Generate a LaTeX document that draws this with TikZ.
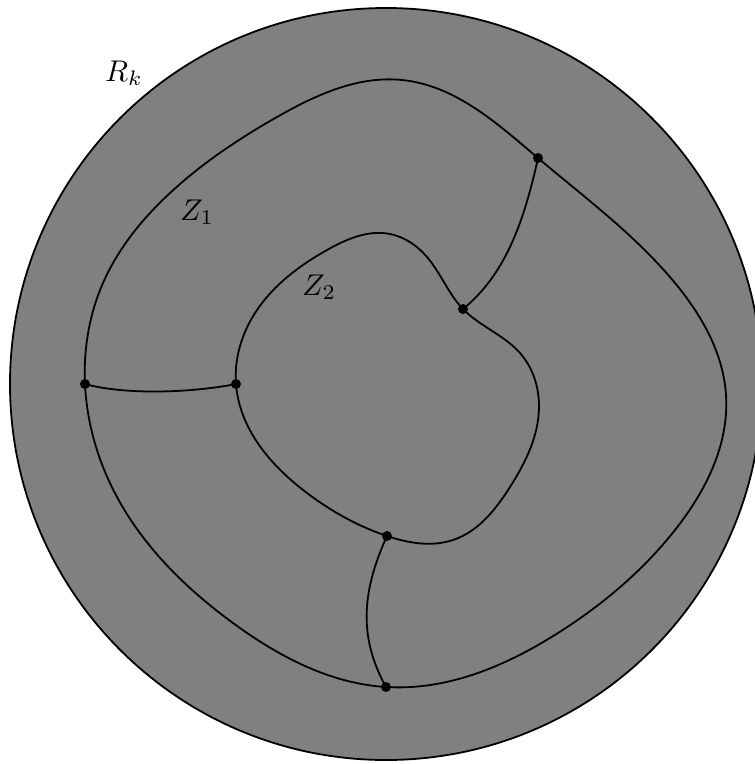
\documentclass[tikz,border=0pt]{standalone}
\usetikzlibrary{hobby}
\begin{document}
\tikzset{
  curve/.style={line width=1.8pt, black},
  dotpt/.style={circle, fill=black, inner sep=0pt, minimum size=10pt},
  lab/.style={font=\normalsize, scale=3, inner sep=0pt}
}
\begin{tikzpicture}[x=1pt,y=-1pt]
\useasboundingbox (0,0) rectangle (755,764);
% region R_k
\draw[curve, fill=gray] (386,384) circle[radius=376];
% vertices
\coordinate (A) at (538,158);
\coordinate (B) at (463,309);
\coordinate (C) at (85,384);
\coordinate (D) at (236,384);
\coordinate (E) at (387,536);
\coordinate (F) at (386,687);
% Z1
\draw[curve, use Hobby shortcut, closed=true]
  (402,80) .. (A) .. (675,283) .. (726,395) .. (675,530) .. (558,633) .. (F)
  .. (233,623) .. (117,497) .. (C) .. (103,283) .. (170,193) .. (277,117);
% Z2
\draw[curve, use Hobby shortcut, closed=true]
  (D) .. (257,310) .. (327,250) .. (390,234) .. (427,257) .. (B) .. (520,353)
  .. (539,407) .. (510,487) .. (453,540) .. (E) .. (307,493);
% connecting edges
\draw[curve] (A) .. controls (524,222) and (505,275) .. (B);
\draw[curve] (C) .. controls (125,395) and (190,393) .. (D);
\draw[curve] (E) .. controls (360,595) and (360,640) .. (F);
% dots
\node[dotpt] (dotA) at (A) {};
\node[dotpt] (dotB) at (B) {};
\node[dotpt] (dotC) at (C) {};
\node[dotpt] (dotD) at (D) {};
\node[dotpt] (dotE) at (E) {};
\node[dotpt] (dotF) at (F) {};
% labels
\node[lab] (lRk) at (124,73) {$R_k$};
\node[lab] (lZ1) at (197,212) {$Z_1$};
\node[lab] (lZ2) at (319,287) {$Z_2$};
\end{tikzpicture}
\end{document}
